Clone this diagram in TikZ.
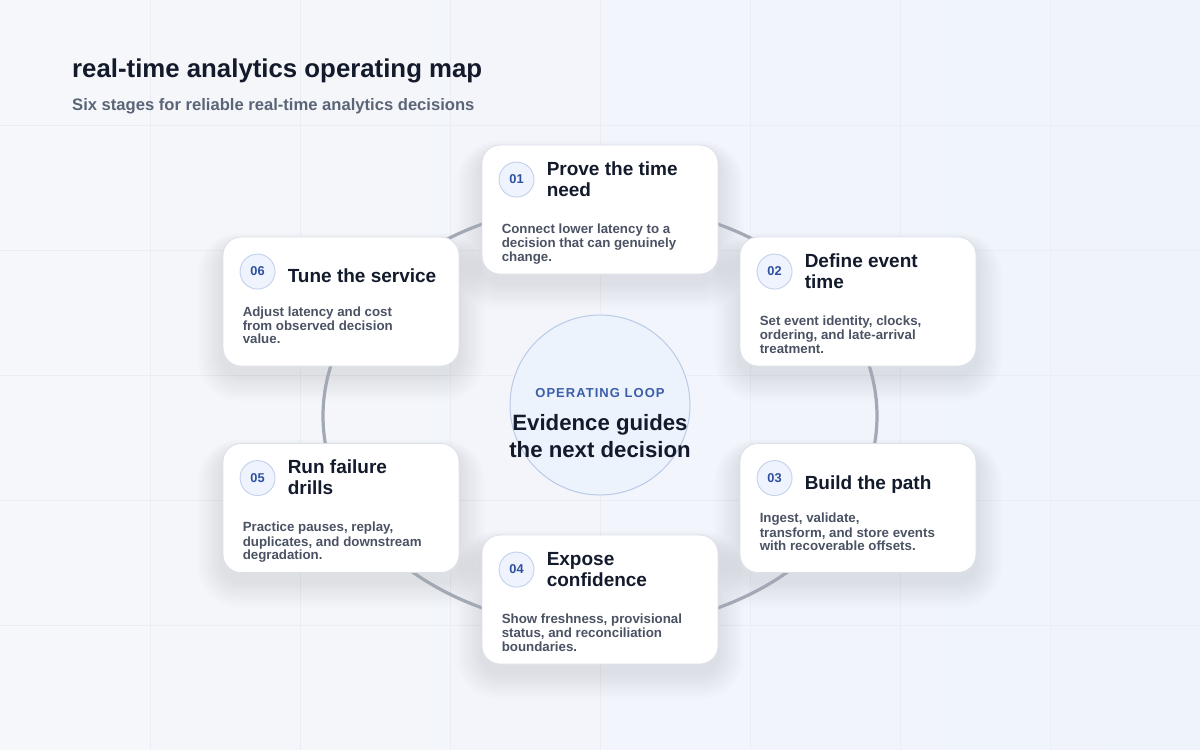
\documentclass[tikz,border=0pt]{standalone}
\usepackage{fontspec}
\setmainfont{Liberation Sans}
\newfontfamily\spacedfont[LetterSpace=8]{Liberation Sans}
\usetikzlibrary{calc}
\definecolor{bgleft}{HTML}{F6F7FA}
\definecolor{bgright}{HTML}{EFF3FB}
\definecolor{gridcol}{HTML}{EAEDF3}
\definecolor{ringcol}{HTML}{A3A9B4}
\definecolor{cardline}{HTML}{DCE1E9}
\definecolor{titlecol}{HTML}{131A2B}
\definecolor{subcol}{HTML}{5B6577}
\definecolor{bodycol}{HTML}{4B5263}
\definecolor{badgefill}{HTML}{EEF3FD}
\definecolor{badgeline}{HTML}{C2D1EC}
\definecolor{badgetext}{HTML}{2D4F9E}
\definecolor{hubfill}{HTML}{EDF3FD}
\definecolor{hubline}{HTML}{B9CAE7}
\definecolor{hubkicker}{HTML}{3B5EAA}
\pgfdeclarelayer{shadowlayer}
\pgfsetlayers{shadowlayer,main}
\tikzset{
  card/.style={draw=cardline, line width=0.9pt, fill=white, rounded corners=18pt,
    minimum width=236pt, minimum height=129pt, inner sep=0pt},
  badge/.style={circle, draw=badgeline, line width=0.9pt, fill=badgefill,
    minimum size=35pt, inner sep=0pt, text=badgetext,
    font=\bfseries\fontsize{12.8}{14}\selectfont},
  ctitle/.style={anchor=north west, align=left, inner sep=0pt, text=titlecol,
    font=\bfseries\fontsize{19}{21}\selectfont},
  cbody/.style={anchor=north west, align=left, inner sep=0pt, text=bodycol,
    font=\bfseries\fontsize{13.3}{13.2}\selectfont},
  loopring/.style={draw=ringcol, line width=3.2pt},
  hub/.style={circle, draw=hubline, line width=1pt, fill=hubfill,
    minimum size=180pt, inner sep=0pt},
  gridline/.style={draw=gridcol, line width=0.7pt},
}
\newcommand{\stagecard}[8]{%
  \node[card] (#1) at (#2,#3) {};
  \node[badge] (#1n) at ($(#1.north west)+(35,35)$) {#4};
  \node[ctitle] (#1t) at ($(#1.north west)+(65,#6)$) {\strut #5};
  \node[cbody] (#1b) at ($(#1.north west)+(20,#8)$) {\strut #7};
  \begin{pgfonlayer}{shadowlayer}
    \foreach \k in {1,...,22} {
      \pgfmathsetmacro{\rr}{18+1.2*\k}
      \pgfmathsetmacro{\dd}{1.2*\k}
      \fill[black, opacity=0.0045, rounded corners=\rr pt]
        ($(#1.north west)+(-\dd,-0.5*\dd+9)$) rectangle ($(#1.south east)+(\dd,\dd+9)$);
    }
  \end{pgfonlayer}
}
\begin{document}
\begin{tikzpicture}[x=1pt,y=-1pt]
\useasboundingbox (0,0) rectangle (1200,750);
\begin{pgfonlayer}{shadowlayer}
  \shade[left color=bgleft, right color=bgright] (0,0) rectangle (1200,750);
  \foreach \gx in {150,300,...,1050} { \draw[gridline] (\gx,0) -- (\gx,750); }
  \foreach \gy in {125,250,...,625} { \draw[gridline] (0,\gy) -- (1200,\gy); }
\end{pgfonlayer}

% title
\node[anchor=base west, inner sep=0pt, text=titlecol,
  font=\bfseries\fontsize{25.8}{30}\selectfont] (title) at (72,77)
  {real-time analytics operating map};
\node[anchor=base west, inner sep=0pt, text=subcol,
  font=\bfseries\fontsize{16.6}{20}\selectfont] (subtitle) at (72,110)
  {Six stages for reliable real-time analytics decisions};

% loop ring
\draw[loopring] (600,416) ellipse [x radius=277, y radius=212];

% hub
\node[hub] (hubc) at (600,405) {};
\node[anchor=base, inner sep=0pt, text=hubkicker,
  font=\spacedfont\bfseries\fontsize{13}{15}\selectfont] (hubk) at (600,397.7) {OPERATING LOOP};
\node[anchor=north, align=center, inner sep=0pt, text=titlecol,
  font=\bfseries\fontsize{22.2}{27}\selectfont] (hubt) at (600,411.1)
  {\strut Evidence guides\\the next decision};

% cards
\stagecard{s1}{600}{209.5}{01}{Prove the time\\need}{15.8}
  {Connect lower latency to a\\decision that can genuinely\\change.}{79}
\stagecard{s2}{858}{301.5}{02}{Define event\\time}{15.8}
  {Set event identity, clocks,\\ordering, and late-arrival\\treatment.}{79}
\stagecard{s3}{858}{508}{03}{Build the path}{31.5}
  {Ingest, validate,\\transform, and store events\\with recoverable offsets.}{69.8}
\stagecard{s4}{600}{599.5}{04}{Expose\\confidence}{15.8}
  {Show freshness, provisional\\status, and reconciliation\\boundaries.}{79}
\stagecard{s5}{341}{508}{05}{Run failure\\drills}{15.8}
  {Practice pauses, replay,\\duplicates, and downstream\\degradation.}{79}
\stagecard{s6}{341}{301.5}{06}{Tune the service}{31.5}
  {Adjust latency and cost\\from observed decision\\value.}{69.8}
\end{tikzpicture}
\end{document}
